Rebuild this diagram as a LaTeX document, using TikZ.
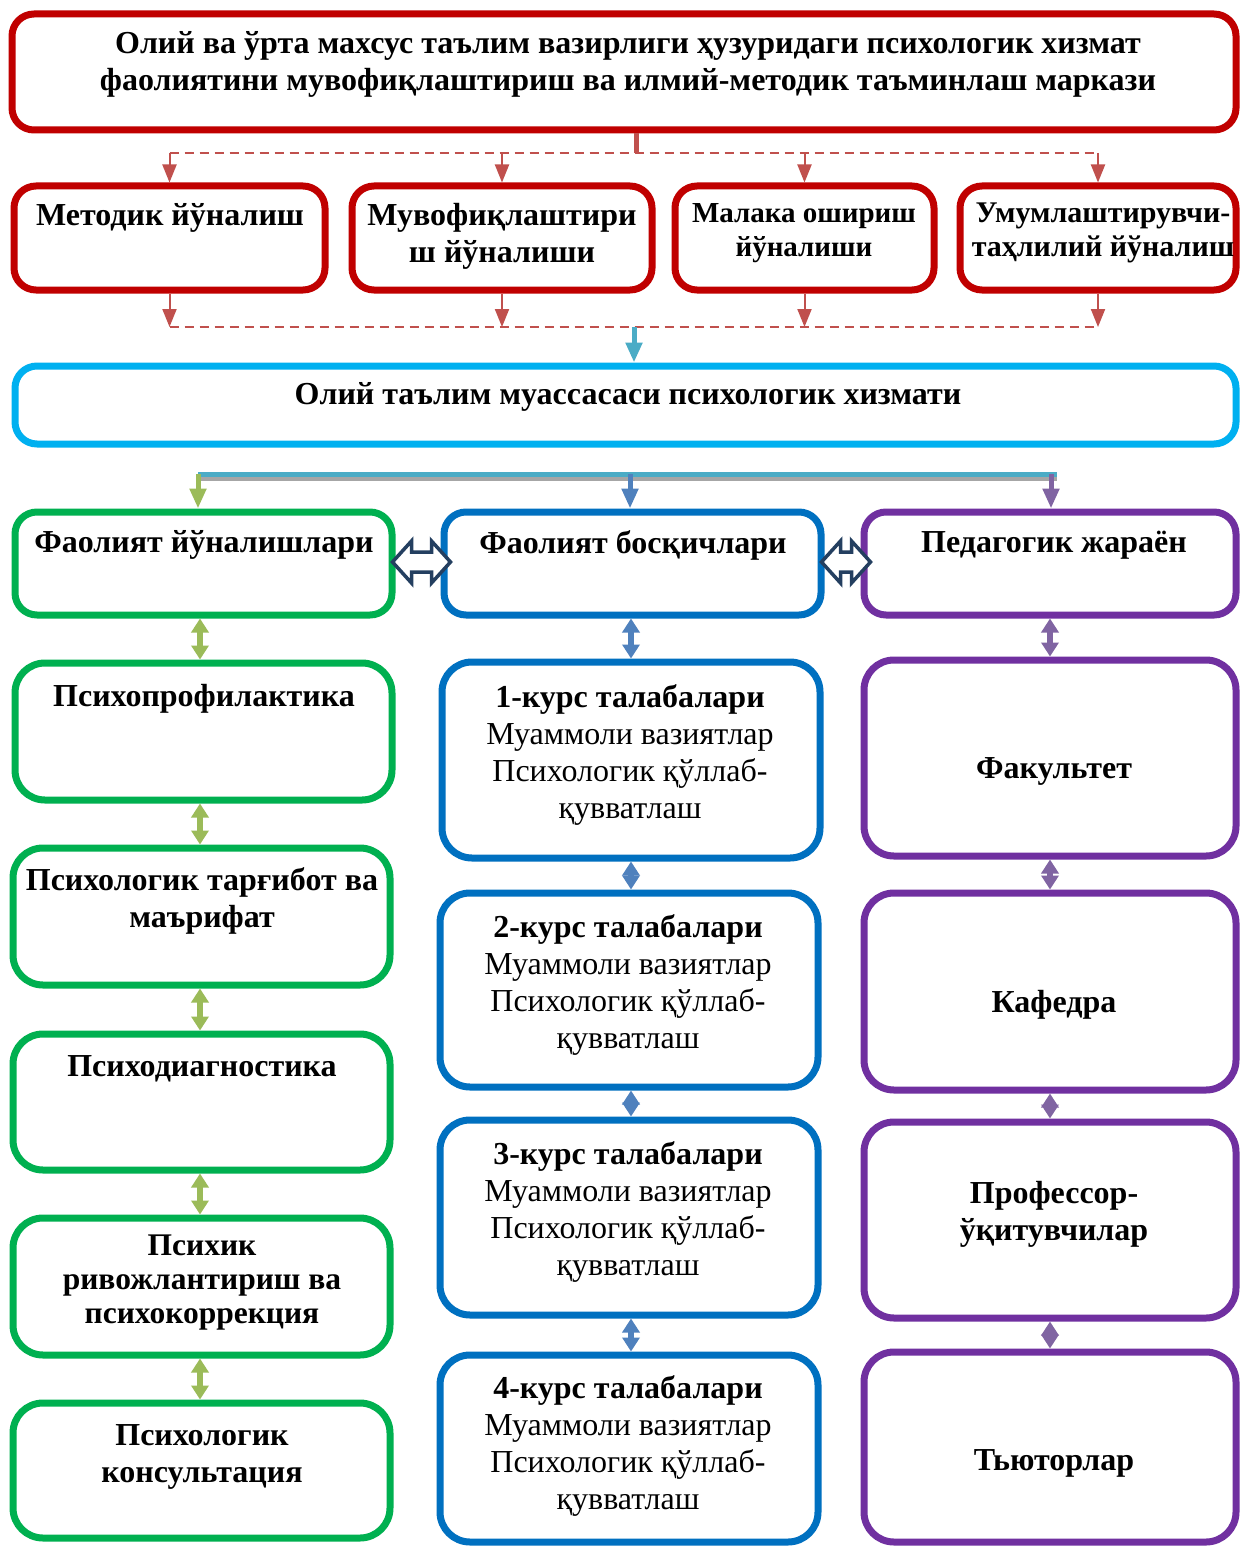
\documentclass[tikz,border=0pt]{standalone}
\usepackage{fontspec}
\setmainfont{Liberation Serif}
\usetikzlibrary{arrows.meta,fit,calc}
\definecolor{boxred}{HTML}{C00000}
\definecolor{arrred}{HTML}{C0504D}
\definecolor{boxcyan}{HTML}{00B0F0}
\definecolor{arrteal}{HTML}{4BACC6}
\definecolor{boxgreen}{HTML}{00B050}
\definecolor{arrgreen}{HTML}{9BBB59}
\definecolor{boxblue}{HTML}{0070C0}
\definecolor{arrblue}{HTML}{4F81BD}
\definecolor{boxpurple}{HTML}{7030A0}
\definecolor{arrpurple}{HTML}{8064A2}
\definecolor{navy}{HTML}{243F60}
\tikzset{
  rbox/.style={draw=#1, line width=7pt, rounded corners=22pt, inner sep=0pt, fill=white},
  cbox/.style={draw=#1, line width=7pt, rounded corners=30pt, inner sep=0pt, fill=white},
  txt/.style={align=center, inner sep=0pt, yshift=-3pt, font=\bfseries\fontsize{32}{37}\selectfont},
  stxt/.style={align=center, inner sep=0pt, yshift=-3pt, font=\bfseries\fontsize{29}{34}\selectfont},
  mtxt/.style={align=center, inner sep=0pt, yshift=-3pt, font=\bfseries\fontsize{31.5}{34}\selectfont},
  btxt/.style={align=center, inner sep=0pt, yshift=-3pt, font=\fontsize{32}{37}\selectfont},
  redarr/.style={draw=arrred, line width=2pt, -{Triangle[width=14pt,length=18pt]}},
  reddash/.style={draw=arrred, line width=2pt, dash pattern=on 9pt off 6pt},
  colarr/.style={draw=#1, line width=5pt, -{Triangle[width=16pt,length=20pt]}},
  vdbl/.style={draw=#1, line width=6pt, {Triangle[width=17pt,length=14pt]}-{Triangle[width=17pt,length=14pt]}},
  hollow/.pic={\draw[navy, line width=3.5pt, fill=white, line join=miter]
     (0,0) -- (19,-21) -- (19,-10) -- (#1-19,-10) -- (#1-19,-21) -- (#1,0)
     -- (#1-19,21) -- (#1-19,10) -- (19,10) -- (19,21) -- cycle;}
}
\begin{document}
\begin{tikzpicture}[x=1pt,y=-1pt]
\useasboundingbox[fill=white] (0,0) rectangle (1239,1546);
% boxes
\node[rbox=boxred, fit={(12,14) (1236,130)}] (top) {};
\node[rbox=boxred, fit={(14,186) (325,290)}] (m1) {};
\node[rbox=boxred, fit={(352,186) (652,290)}] (m2) {};
\node[rbox=boxred, fit={(675,186) (934,290)}] (m3) {};
\node[rbox=boxred, fit={(960,186) (1236,290)}] (m4) {};
\node[rbox=boxcyan, fit={(15,366) (1236,444)}] (cy) {};
\node[rbox=boxgreen, fit={(15,512) (392,615)}] (fh) {};
\node[rbox=boxblue, fit={(444,512) (821,615)}] (bh) {};
\node[rbox=boxpurple, fit={(864,512) (1236,615)}] (ph) {};
\node[cbox=boxgreen, fit={(15,663) (392,800)}] (g1) {};
\node[cbox=boxgreen, fit={(13,848) (390,985)}] (g2) {};
\node[cbox=boxgreen, fit={(13,1034) (390,1170)}] (g3) {};
\node[cbox=boxgreen, fit={(13,1218) (390,1355)}] (g4) {};
\node[cbox=boxgreen, fit={(13,1403) (390,1538)}] (g5) {};
\node[cbox=boxblue, fit={(442,662) (820,858)}] (b1) {};
\node[cbox=boxblue, fit={(440,893) (818,1087)}] (b2) {};
\node[cbox=boxblue, fit={(440,1120) (818,1315)}] (b3) {};
\node[cbox=boxblue, fit={(440,1355) (818,1542)}] (b4) {};
\node[cbox=boxpurple, fit={(864,660) (1236,856)}] (p1) {};
\node[cbox=boxpurple, fit={(864,893) (1236,1090)}] (p2) {};
\node[cbox=boxpurple, fit={(864,1122) (1236,1318)}] (p3) {};
\node[cbox=boxpurple, fit={(864,1352) (1236,1542)}] (p4) {};
% texts
\node[txt] (ttop) at (628,61.5) {Олий ва ўрта махсус таълим вазирлиги ҳузуридаги психологик хизмат\\фаолиятини мувофиқлаштириш ва илмий-методик таъминлаш маркази};
\node[txt] (tm1) at (170,215) {Методик йўналиш};
\node[txt] (tm2) at (502,233.5) {Мувофиқлаштири\\ш йўналиши};
\node[stxt] (tm3) at (804,230) {Малака ошириш\\йўналиши};
\node[stxt, font=\bfseries\fontsize{30}{34}\selectfont] (tm4) at (1103,230) {Умумлаштирувчи-\\таҳлилий йўналиш};
\node[txt] (tcy) at (628,394) {Олий таълим муассасаси психологик хизмати};
\node[txt] (tfh) at (204,542) {Фаолият йўналишлари};
\node[txt] (tbh) at (633,542) {Фаолият босқичлари};
\node[txt] (tph) at (1054,542) {Педагогик жараён};
\node[txt] (tg1) at (204,696) {Психопрофилактика};
\node[txt] (tg2) at (202,898) {Психологик тарғибот ва\\маърифат};
\node[txt] (tg3) at (202,1066) {Психодиагностика};
\node[mtxt] (tg4) at (202,1280) {Психик\\ривожлантириш ва\\психокоррекция};
\node[txt] (tg5) at (202,1453.5) {Психологик\\консультация};
\node[btxt] (tb1) at (630,751.5) {\textbf{1-курс талабалари}\\Муаммоли вазиятлар\\Психологик қўллаб-\\қувватлаш};
\node[btxt] (tb2) at (628,981.5) {\textbf{2-курс талабалари}\\Муаммоли вазиятлар\\Психологик қўллаб-\\қувватлаш};
\node[btxt] (tb3) at (628,1209) {\textbf{3-курс талабалари}\\Муаммоли вазиятлар\\Психологик қўллаб-\\қувватлаш};
\node[btxt] (tb4) at (628,1443) {\textbf{4-курс талабалари}\\Муаммоли вазиятлар\\Психологик қўллаб-\\қувватлаш};
\node[txt] (tp1) at (1054,768) {Факультет};
\node[txt] (tp2) at (1054,1002) {Кафедра};
\node[txt] (tp3) at (1054,1211.5) {Профессор-\\ўқитувчилар};
\node[txt] (tp4) at (1054,1460) {Тьюторлар};
% top connectors
\coordinate (busA) at (636,153);
\coordinate (busB) at (634,327);
\draw[draw=arrred, line width=5pt] (busA |- top.south) -- (busA);
\draw[reddash] (m1.north |- busA) -- (m4.north |- busA);
\foreach \m in {m1,m2,m3,m4} {
  \draw[redarr] (\m.north |- busA) -- (\m.north);
  \draw[redarr] (\m.south) -- (\m.south |- busB);
}
\draw[reddash] (m1.south |- busB) -- (m4.south |- busB);
\draw[colarr=arrteal] (busB) -- (busB |- cy.north);
% bracket
\coordinate (brL) at (198,474);
\coordinate (brM) at (630,474);
\coordinate (brR) at (1051,474);
\draw[draw=gray!70, line width=5pt] ($(brL)+(0,4)$) -- ($(brR)+(6,4)$);
\draw[draw=arrteal, line width=5pt] (brL) -- ($(brR)+(6,0)$);
\draw[colarr=arrgreen] (brL) -- (fh.north -| brL);
\draw[colarr=arrblue] (brM) -- (bh.north -| brM);
\draw[colarr=arrpurple] (brR) -- (ph.north -| brR);
% hollow double arrows
\coordinate (hy) at (0,562);
\pic at ($(fh.east |- hy)+(-3,0)$) {hollow=58};
\pic at ($(bh.east |- hy)+(-3,0)$) {hollow=49};
% vertical double arrows
\coordinate (gx) at (200,0);
\coordinate (bx) at (631,0);
\coordinate (px) at (1050,0);
\draw[vdbl=arrgreen] (fh.south -| gx) -- (g1.north -| gx);
\draw[vdbl=arrgreen] (g1.south -| gx) -- (g2.north -| gx);
\draw[vdbl=arrgreen] (g2.south -| gx) -- (g3.north -| gx);
\draw[vdbl=arrgreen] (g3.south -| gx) -- (g4.north -| gx);
\draw[vdbl=arrgreen] (g4.south -| gx) -- (g5.north -| gx);
\draw[vdbl=arrblue] (bh.south -| bx) -- (b1.north -| bx);
\draw[vdbl=arrblue] (b1.south -| bx) -- (b2.north -| bx);
\draw[vdbl=arrblue] (b2.south -| bx) -- (b3.north -| bx);
\draw[vdbl=arrblue] (b3.south -| bx) -- (b4.north -| bx);
\draw[vdbl=arrpurple] (ph.south -| px) -- (p1.north -| px);
\draw[vdbl=arrpurple] (p1.south -| px) -- (p2.north -| px);
\draw[vdbl=arrpurple] (p2.south -| px) -- (p3.north -| px);
\draw[vdbl=arrpurple] (p3.south -| px) -- (p4.north -| px);
\end{tikzpicture}
\end{document}
